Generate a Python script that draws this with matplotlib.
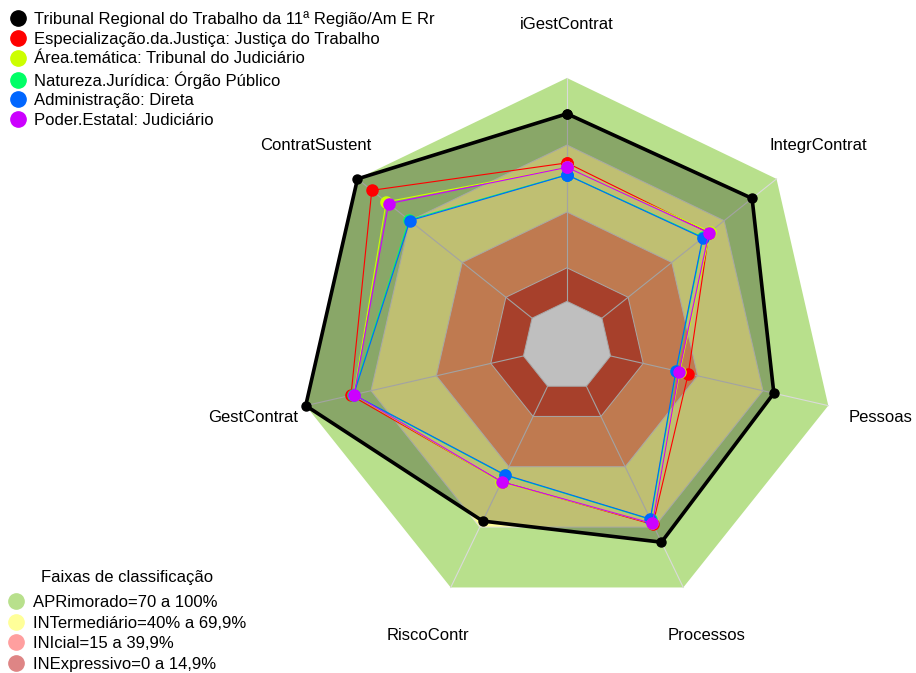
import numpy as np
import matplotlib
matplotlib.use('Agg')
import matplotlib.pyplot as plt
from matplotlib.lines import Line2D
matplotlib.rcParams.update({'font.size': 12, 'font.family': 'Liberation Sans'})

# indicator names, clockwise from the top
axes_names = ['iGestContrat', 'IntegrContrat', 'Pessoas', 'Processos',
              'RiscoContr', 'GestContrat', 'ContratSustent']

# scores (0..1) per group
tribunal = [0.84, 0.86, 0.75, 0.775, 0.67, 1.00, 1.00]
justica_trab = [0.62, 0.613, 0.357, 0.687, 0.475, 0.792, 0.918]
area_tematica = [0.60, 0.62, 0.318, 0.682, 0.478, 0.78, 0.835]
natureza = [0.567, 0.58, 0.302, 0.662, 0.442, 0.782, 0.705]
administracao = [0.566, 0.577, 0.30, 0.66, 0.44, 0.78, 0.70]
poder = [0.60, 0.613, 0.315, 0.682, 0.475, 0.778, 0.822]

series_names = ['Tribunal Regional do Trabalho da 11ª Região/Am E Rr',
                'Especialização.da.Justiça: Justiça do Trabalho',
                'Área.temática: Tribunal do Judiciário',
                'Natureza.Jurídica: Órgão Público',
                'Administração: Direta',
                'Poder.Estatal: Judiciário']
series_colors = ['black', '#FF0000', '#CCFF00', '#00FF66', '#0066FF', '#CC00FF']

# classification bands (upper limit of each band)
band_limits = [1.0, 0.7, 0.4, 0.15, 0.0]
band_colors = ['#B8E08C', '#FFFF99', '#FFA36B', '#E0563A', '#FFFFFF']
band_labels = ['APRimorado=70 a 100%', 'INTermediário=40% a 69,9%',
               'INIcial=15 a 39,9%', 'INExpressivo=0 a 14,9%']
band_legend_colors = ['#B8E08C', '#FFFF99', '#FF9F9F', '#DE8585']

n = len(axes_names)
theta = np.arange(n) * 2 * np.pi / n


def to_xy(values):
    # centre gap of one segment, five segments up to the rim
    r = (1 + 5 * np.asarray(values, dtype=float)) / 6
    x = r * np.sin(theta)
    y = r * np.cos(theta)
    return np.append(x, x[0]), np.append(y, y[0])


W, H = 916, 673
cx, cy, R = 567, 346, 268
fig = plt.figure(figsize=(W / 100, H / 100), dpi=100)
ax = fig.add_axes([0, 0, 1, 1])
ax.set_xlim(-cx / R, (W - cx) / R)
ax.set_ylim(-(H - cy) / R, cy / R)
ax.axis('off')

# bands
for i, (lim, col) in enumerate(zip(band_limits, band_colors)):
    x, y = to_xy([lim] * n)
    ax.fill(x, y, color=col, ec='#E0E0E0' if i else 'none', lw=0.7, zorder=1)

# spokes
for t in theta:
    ax.plot([np.sin(t) / 6, np.sin(t)], [np.cos(t) / 6, np.cos(t)],
            color='#DADADA', lw=0.8, zorder=2)

# shaded area of the tribunal
x, y = to_xy(tribunal)
ax.fill(x, y, color='black', alpha=0.25, lw=0, zorder=3)

all_series = [tribunal, justica_trab, area_tematica, natureza, administracao, poder]
for i, (vals, col) in enumerate(zip(all_series, series_colors)):
    x, y = to_xy(vals)
    if i == 0:
        ax.plot(x, y, '-o', color=col, lw=2.6, ms=6.5, zorder=10)
    else:
        ax.plot(x, y, '-o', color=col, lw=0.8, ms=8, zorder=4 + i)

# indicator labels
for name, t in zip(axes_names, theta):
    ax.text(1.2 * np.sin(t), 1.2 * np.cos(t), name, ha='center', va='center')

handles = [Line2D([], [], marker='o', ls='', color=c, markersize=11) for c in series_colors]
leg1 = fig.legend(handles, series_names, loc='upper left', bbox_to_anchor=(0.0, 0.997),
                  frameon=False, handletextpad=0.5, labelspacing=0.28,
                  borderaxespad=0.35, handlelength=1.0, borderpad=0.2)

handles2 = [Line2D([], [], marker='o', ls='', color=c, markersize=11) for c in band_legend_colors]
leg2 = fig.legend(handles2, band_labels, title='Faixas de classificação',
                  loc='lower left', bbox_to_anchor=(0.0071, 0.0), frameon=False,
                  handletextpad=0.5, labelspacing=0.33, borderaxespad=0.0,
                  handlelength=1.0, borderpad=0.08, title_fontsize=12)
leg2._legend_box.sep = 7

fig.savefig('out.png', dpi=100)
